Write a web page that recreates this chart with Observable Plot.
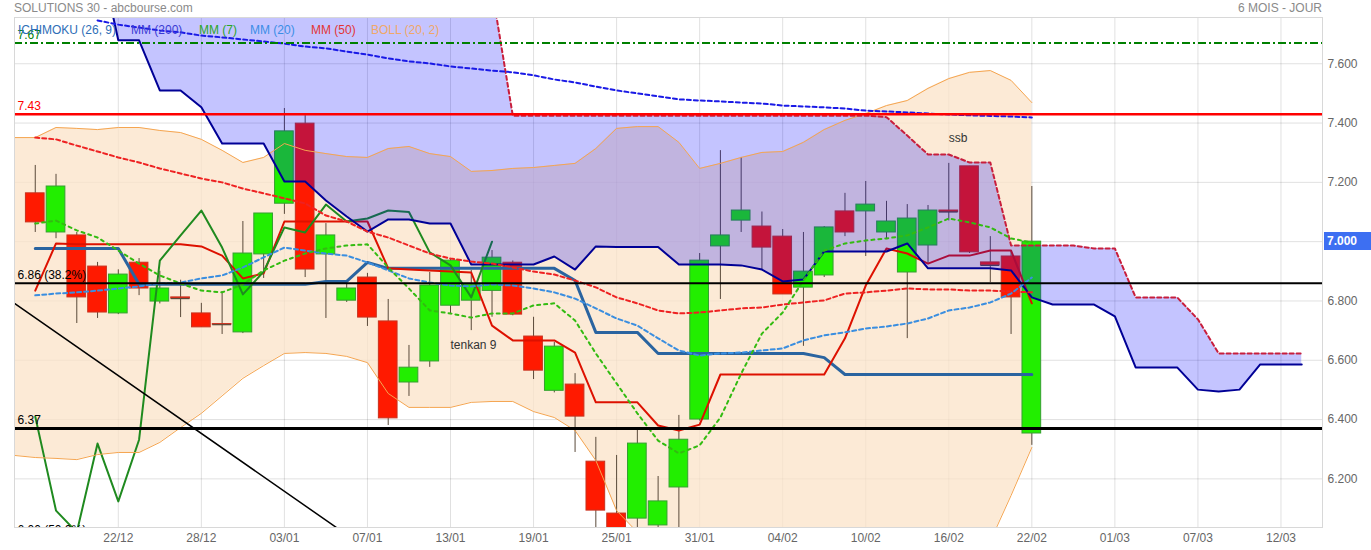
<!DOCTYPE html>
<html><head><meta charset="utf-8">
<script src="https://cdn.jsdelivr.net/npm/d3@7"></script>
<script src="https://cdn.jsdelivr.net/npm/@observablehq/plot@0.6"></script>
<style>
body{margin:0;background:#fff;font-family:"Liberation Sans",Arial,sans-serif;}
#wrap{position:relative;width:1371px;height:550px;overflow:hidden;}
.ov{position:absolute;font-size:12px;white-space:nowrap;line-height:14px;}
</style></head><body><div id="wrap"></div>
<script>
// ---- data ----
const titleText = "SOLUTIONS 30 - abcbourse.com";
const periodText = "6 MOIS - JOUR";
const legendNames = ["ICHIMOKU (26, 9)", "MM (200)", "MM (7)", "MM (20)", "MM (50)", "BOLL (20, 2)"];
const legendColors = ["#2e6eb7", "#3b3bd4", "#2aa52a", "#3a8ee6", "#e23535", "#f0a868"];

const tickT = [0,4,8,12,16,20,24,28,32,36,40,44,48,52,56];
const tickLabels = ["22/12","28/12","03/01","07/01","13/01","19/01","25/01","31/01","04/02","10/02","16/02","22/02","01/03","07/03","12/03"];
const yTicks = [6.2, 6.4, 6.6, 6.8, 7.0, 7.2, 7.4, 7.6];

const candleStart = -4;
const open  = [7.163,7.031,7.021,6.916,6.758,6.929,6.798,6.812,6.758,6.722,6.694,6.957,7.128,7.398,6.957,6.801,6.879,6.731,6.525,6.596,6.784,6.801,6.834,6.929,6.680,6.497,6.518,6.258,6.083,6.066,6.043,6.171,6.400,6.984,7.071,7.051,7.017,6.845,6.886,7.102,7.102,7.031,6.896,6.987,7.105,7.254,6.930,6.950,6.353];
const high  = [7.257,7.227,7.031,6.930,6.905,6.943,6.900,6.870,6.792,6.832,7.068,7.095,7.449,7.425,7.061,6.859,6.893,6.805,6.650,6.896,6.943,6.903,6.970,6.935,6.745,6.660,6.555,6.340,6.279,6.366,6.208,6.414,6.960,7.307,7.284,7.100,7.041,7.031,7.051,7.163,7.203,7.136,7.125,7.122,7.264,7.254,7.017,6.970,7.186];
const low   = [7.031,7.010,6.724,6.741,6.754,6.818,6.790,6.744,6.711,6.687,6.690,6.876,7.092,6.879,6.741,6.795,6.714,6.380,6.478,6.576,6.754,6.700,6.745,6.750,6.535,6.490,6.289,6.030,5.980,6.000,6.000,6.000,6.395,6.805,7.031,6.906,6.822,6.647,6.879,7.017,6.950,7.007,6.673,6.923,7.070,6.960,6.862,6.687,6.313];
const close = [7.065,7.186,6.812,6.761,6.889,6.842,6.842,6.808,6.711,6.720,6.960,7.095,7.372,6.906,7.021,6.842,6.744,6.404,6.575,6.852,6.936,6.855,6.946,6.754,6.565,6.646,6.410,6.093,6.020,6.319,6.124,6.332,6.936,7.021,7.105,6.980,6.822,6.899,7.048,7.031,7.125,7.068,7.078,7.105,7.100,6.964,6.920,6.812,7.000];

const tenkan = [6.835,6.994,6.991,6.991,6.991,6.991,6.991,6.991,6.984,6.953,6.876,6.893,7.068,7.068,7.068,7.068,7.068,6.910,6.906,6.903,6.899,6.896,6.717,6.667,6.667,6.667,6.626,6.458,6.458,6.458,6.380,6.363,6.383,6.552,6.552,6.552,6.552,6.552,6.552,6.674,6.852,6.977,6.960,6.926,6.953,6.953,6.970,6.970,6.792];
const kijun  = [6.977,6.977,6.977,6.977,6.977,6.856,6.856,6.856,6.856,6.856,6.856,6.856,6.856,6.856,6.866,6.866,6.930,6.910,6.910,6.910,6.910,6.910,6.910,6.910,6.910,6.910,6.869,6.694,6.694,6.694,6.623,6.623,6.623,6.623,6.623,6.623,6.623,6.623,6.609,6.552,6.552,6.552,6.552,6.552,6.552,6.552,6.552,6.552,6.552];
const chikouShift = 26;

const cloudStart = -1;
const ssa = [8.00,7.679,7.679,7.510,7.510,7.453,7.331,7.331,7.331,7.203,7.203,7.139,7.085,7.034,7.075,7.075,7.061,7.061,6.923,6.923,6.923,6.923,6.950,6.906,6.984,6.982,6.982,6.982,6.923,6.923,6.923,6.920,6.906,6.866,6.872,6.967,6.967,6.967,6.967,6.994,6.910,6.910,6.910,6.910,6.903,6.812,6.788,6.788,6.788,6.748,6.576,6.576,6.576,6.501,6.495,6.501,6.586,6.586,6.586];
const ssb = [8.2,8.2,8.2,8.2,8.2,8.2,8.2,8.2,8.2,8.2,8.2,8.2,8.2,8.2,8.2,8.2,8.2,8.2,8.2,7.85,7.425,7.425,7.425,7.425,7.425,7.425,7.425,7.425,7.425,7.425,7.425,7.425,7.425,7.425,7.425,7.425,7.425,7.425,7.420,7.358,7.294,7.294,7.267,7.267,6.987,6.987,6.987,6.987,6.977,6.977,6.812,6.812,6.812,6.738,6.623,6.623,6.623,6.623,6.623];

const bollStart = -5;
const bollUpper = [7.351,7.351,7.385,7.382,7.378,7.385,7.385,7.375,7.368,7.345,7.308,7.267,7.284,7.331,7.308,7.297,7.287,7.284,7.314,7.321,7.297,7.287,7.237,7.240,7.247,7.250,7.257,7.264,7.314,7.382,7.388,7.388,7.335,7.247,7.264,7.284,7.301,7.304,7.335,7.378,7.409,7.432,7.459,7.476,7.517,7.550,7.571,7.577,7.544,7.469];
const bollLower = [6.279,6.272,6.269,6.265,6.282,6.289,6.289,6.323,6.373,6.421,6.480,6.539,6.582,6.623,6.626,6.623,6.613,6.592,6.488,6.441,6.441,6.441,6.458,6.461,6.461,6.427,6.407,6.363,6.262,6.093,6.020,5.950,5.890,5.860,5.840,5.830,5.830,5.840,5.850,5.860,5.870,5.880,5.890,5.900,5.910,5.930,5.950,5.990,6.144,6.306];

const mm7  = [7.061,7.071,7.038,7.014,6.970,6.926,6.886,6.859,6.835,6.829,6.856,6.903,6.936,6.960,6.977,6.987,6.991,6.913,6.842,6.768,6.758,6.744,6.758,6.758,6.785,6.792,6.734,6.623,6.522,6.421,6.329,6.286,6.313,6.407,6.555,6.690,6.761,6.869,6.970,6.994,7.004,7.011,7.021,7.048,7.078,7.065,7.048,7.011,6.997];
const mm20 = [6.819,6.825,6.829,6.835,6.842,6.849,6.859,6.862,6.876,6.886,6.913,6.947,6.980,6.970,6.960,6.953,6.930,6.903,6.876,6.862,6.852,6.849,6.856,6.852,6.842,6.829,6.808,6.775,6.741,6.717,6.674,6.633,6.616,6.623,6.626,6.633,6.640,6.667,6.684,6.694,6.707,6.714,6.724,6.741,6.768,6.778,6.795,6.825,6.879];
const mm50 = [7.351,7.345,7.324,7.304,7.284,7.267,7.247,7.230,7.213,7.200,7.179,7.163,7.146,7.129,7.088,7.068,7.034,7.014,6.987,6.960,6.943,6.933,6.926,6.913,6.899,6.889,6.869,6.846,6.812,6.792,6.768,6.758,6.761,6.768,6.775,6.778,6.788,6.795,6.802,6.825,6.829,6.835,6.842,6.839,6.839,6.835,6.835,6.832,6.829];
const mm200Start = -1;
const mm200 = [7.746,7.732,7.722,7.712,7.706,7.695,7.689,7.682,7.675,7.668,7.658,7.652,7.641,7.631,7.618,7.608,7.601,7.591,7.584,7.577,7.571,7.561,7.547,7.537,7.523,7.510,7.500,7.490,7.480,7.476,7.473,7.469,7.466,7.459,7.456,7.453,7.449,7.442,7.439,7.436,7.432,7.429,7.426,7.424,7.422,7.419];

const levelValues = [7.67, 7.43, 6.86, 6.37, 6.00];
const levelLabels = ["7.67", "7.43", "6.86 (38.2%)", "6.37", "6.00 (50.0%)"];
const levelColors = ["#008000", "#ff0000", "#000000", "#000000", "#000000"];

const trendT = [-5, 12];
const trendV = [6.792, 5.963];

const noteT = [16.0, 40.0];
const noteV = [6.650, 7.348];
const noteText = ["tenkan 9", "ssb"];

// ---- build tables ----
const series = (t0, vals) => vals.map((v, i) => ({t: t0 + i, v}));
const candles = open.map((o, i) => ({t: candleStart + i, open: o, high: high[i], low: low[i], close: close[i]}));
const chikou = candles.filter(d => d.t - chikouShift >= candleStart).map(d => ({t: d.t - chikouShift, v: d.close}));
const cloud = ssa.map((a, i) => ({t: cloudStart + i, ssa: a, ssb: ssb[i]}));
const boll = bollUpper.map((u, i) => ({t: bollStart + i, upper: u, lower: bollLower[i]}));
const levels = levelValues.map((v, i) => ({v, label: levelLabels[i], color: levelColors[i]}));
const trend = trendT.map((t, i) => ({t, v: trendV[i]}));
const notes = noteT.map((t, i) => ({t, v: noteV[i], text: noteText[i]}));
const labelMap = new Map(tickT.map((t, i) => [t, tickLabels[i]]));
const upC = "#22ee00", downC = "#ff1a00";
const hw = 0.45;

const chart = Plot.plot({
  width: 1371, height: 550,
  marginTop: 17, marginBottom: 23, marginLeft: 14, marginRight: 49,
  x: {domain: [-5, 58], axis: null, label: null},
  y: {domain: [6.036, 7.756], axis: null, label: null},
  style: {fontFamily: "'Liberation Sans', Arial, sans-serif", fontSize: "12px", background: "#fff"},
  marks: [
    Plot.gridY(yTicks, {stroke: "#000", strokeOpacity: 0.12}),
    Plot.gridX(tickT, {stroke: "#000", strokeOpacity: 0.12}),
    Plot.areaY(boll, {x: "t", y1: "lower", y2: "upper", fill: "#fbe3c8", fillOpacity: 0.75, clip: true}),
    Plot.ruleX(candles, {x: "t", y1: "low", y2: "high", stroke: "#5a4a3a", strokeWidth: 1, clip: true}),
    Plot.rect(candles, {x1: d => d.t - hw, x2: d => d.t + hw, y1: "open", y2: "close",
      fill: d => d.close >= d.open ? upC : downC,
      stroke: d => d.close >= d.open ? "#35a030" : "#c8321e", strokeWidth: 1, clip: true}),
    Plot.ruleY(candles.filter(d => Math.abs(d.close - d.open) < 0.012), {x1: d => d.t - hw, x2: d => d.t + hw, y: "close", stroke: "#5a4a3a", strokeWidth: 1.2, clip: true}),
    Plot.line(series(candleStart, kijun), {x: "t", y: "v", stroke: "#2a64a0", strokeWidth: 3, clip: true}),
    Plot.line(series(candleStart, tenkan), {x: "t", y: "v", stroke: "#dd1100", strokeWidth: 2, clip: true}),
    Plot.line(chikou, {x: "t", y: "v", stroke: "#1f8a1f", strokeWidth: 2, clip: true}),
    Plot.areaY(cloud, {x: "t", y1: "ssa", y2: "ssb", fill: "#0000ff", fillOpacity: 0.23, clip: true}),
    Plot.line(boll, {x: "t", y: "upper", stroke: "#f5a550", strokeWidth: 1, clip: true}),
    Plot.line(boll, {x: "t", y: "lower", stroke: "#f5a550", strokeWidth: 1, clip: true}),
    Plot.line(cloud, {x: "t", y: "ssa", stroke: "#000096", strokeWidth: 2, clip: true}),
    Plot.line(cloud, {x: "t", y: "ssb", stroke: "#c81e3c", strokeWidth: 2, strokeDasharray: "4,3", clip: true}),
    Plot.line(series(mm200Start, mm200), {x: "t", y: "v", stroke: "#1a1ae6", strokeWidth: 2, strokeDasharray: "4,3", clip: true}),
    Plot.line(series(candleStart, mm50), {x: "t", y: "v", stroke: "#ee2222", strokeWidth: 2, strokeDasharray: "4,3", clip: true}),
    Plot.line(series(candleStart, mm20), {x: "t", y: "v", stroke: "#3a8ee0", strokeWidth: 2, strokeDasharray: "4,3", clip: true}),
    Plot.line(series(candleStart, mm7), {x: "t", y: "v", stroke: "#33bb11", strokeWidth: 2, strokeDasharray: "3,4", clip: true}),
    Plot.line(trend, {x: "t", y: "v", stroke: "#000", strokeWidth: 1.5, clip: true}),
    Plot.ruleY(levels.slice(0, 1), {y: "v", stroke: "color", strokeWidth: 2, strokeDasharray: "8,3,2,3"}),
    Plot.ruleY(levels.slice(1, 2), {y: "v", stroke: "color", strokeWidth: 2.5}),
    Plot.ruleY(levels.slice(2, 3), {y: "v", stroke: "color", strokeWidth: 2}),
    Plot.ruleY(levels.slice(3, 4), {y: "v", stroke: "color", strokeWidth: 3}),
    Plot.text(levels, {y: "v", text: "label", fill: "color", frameAnchor: "left", textAnchor: "start", dx: 3, dy: -8, fontSize: 12, clip: true}),
    Plot.text(notes, {x: "t", y: "v", text: "text", textAnchor: "start", fill: "#333", fontSize: 12}),
    Plot.frame({stroke: "#d8d8d8"}),
    Plot.axisY(yTicks, {anchor: "right", tickSize: 0, tickPadding: 5, tickFormat: d3.format(".3f"), fill: "#666", fontSize: 12, label: null}),
    Plot.axisX(tickT, {anchor: "bottom", tickSize: 0, tickPadding: 6, tickFormat: d => labelMap.get(d), fill: "#666", fontSize: 12, label: null})
  ]
});

const wrap = document.getElementById("wrap");
wrap.appendChild(chart);

function ov(text, css) {
  const d = document.createElement("div");
  d.className = "ov";
  d.textContent = text;
  Object.assign(d.style, css);
  wrap.appendChild(d);
  return d;
}
ov(titleText, {left: "14px", top: "1px", color: "#8a8a8a"});
ov(periodText, {right: "49px", top: "1px", color: "#8a8a8a"});
const legendX = [18, 131, 199, 250, 311, 371];
legendNames.forEach((n, i) => ov(n, {left: legendX[i] + "px", top: "23px", color: legendColors[i]}));
const yLast = chart.scale("y").apply(close[close.length - 1]);
ov(d3.format(".3f")(close[close.length - 1]), {left: "1324px", top: (yLast - 9) + "px", width: "44px", height: "18px", lineHeight: "18px",
  background: "#3d6ff2", color: "#fff", fontWeight: "bold", paddingLeft: "3px"});
</script></body></html>
